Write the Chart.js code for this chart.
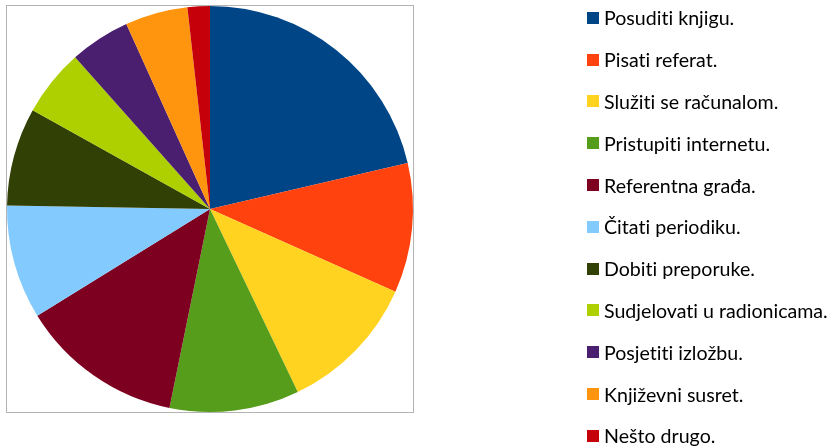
<!DOCTYPE html>
<html><head><meta charset="utf-8">
<script src="https://cdn.jsdelivr.net/npm/chart.js@4.4.1/dist/chart.umd.min.js"></script>
<style>
html,body{margin:0;padding:0;background:#fff;}
#wrap{position:relative;width:835px;height:448px;}
#legend{position:absolute;left:587px;top:-3px;margin:0;padding:0;list-style:none;font-family:Lato,"Open Sans",sans-serif;font-size:19.6px;color:#000;font-variant-ligatures:none;font-feature-settings:"liga" 0,"clig" 0;}
#legend li{height:41.8px;display:flex;align-items:center;white-space:nowrap;}
#legend span.box{display:inline-block;width:12px;height:12px;margin-right:5px;flex:none;}
</style></head>
<body><div id="wrap"><canvas id="c" width="835" height="448"></canvas><ul id="legend"></ul></div>
<script>
const categories = ["Posuditi knjigu.","Pisati referat.","Služiti se računalom.","Pristupiti internetu.","Referentna građa.","Čitati periodiku.","Dobiti preporuke.","Sudjelovati u radionicama.","Posjetiti izložbu.","Književni susret.","Nešto drugo."];
const values = [120,58,63,58,73,51,44,30,27,28,10];
const colors = ["#004586","#ff420e","#ffd320","#579d1c","#7e0021","#83caff","#314004","#aecf00","#4b1f6f","#ff950e","#c5000b"];

const frame = {
  id:'frame',
  afterDraw(chart){
    const {ctx, chartArea:a} = chart;
    ctx.save();
    ctx.strokeStyle = '#b3b3b3';
    ctx.lineWidth = 1;
    ctx.strokeRect(Math.round(a.left)-0.5, Math.round(a.top)-0.5, Math.round(a.right-a.left)+1, Math.round(a.bottom-a.top)+1);
    ctx.restore();
  }
};

const chart = new Chart(document.getElementById('c'), {
  type:'pie',
  data:{labels:categories, datasets:[{data:values, backgroundColor:colors, borderWidth:0, hoverOffset:0}]},
  options:{
    responsive:false, animation:false,
    layout:{padding:{left:7,top:6,right:422,bottom:36}},
    plugins:{legend:{display:false}, tooltip:{enabled:false}}
  },
  plugins:[frame]
});

const items = Chart.overrides.pie.plugins.legend.labels.generateLabels(chart);
const ul = document.getElementById('legend');
items.forEach(it=>{
  const li=document.createElement('li');
  const b=document.createElement('span'); b.className='box'; b.style.background=it.fillStyle;
  li.appendChild(b); li.appendChild(document.createTextNode(it.text)); ul.appendChild(li);
});
</script></body></html>
